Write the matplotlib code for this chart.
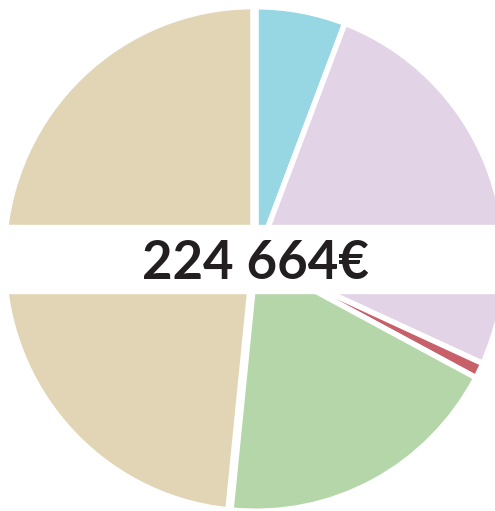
import matplotlib.pyplot as plt

labels = ["Bleu", "Violet", "Rouge", "Vert", "Beige"]
shares = [5.8, 26.0, 1.0, 18.8, 48.4]
colors = ["#96D7E3", "#E2D3E7", "#C8606A", "#B5D6A8", "#E2D5B5"]
explode = [0, 0, 0, 0, 0.012]
total_label = "224 664€"


def main():
    fig = plt.figure(figsize=(4.95, 5.11), dpi=100)
    ax = fig.add_axes([0, 0, 1, 1])

    ax.pie(shares, colors=colors, startangle=90, counterclock=False,
           explode=explode, radius=1.0,
           wedgeprops={"edgecolor": "white", "linewidth": 4})

    # pixel scale of one radius, slightly wider vertically than horizontally
    sx, sy = 249.3, 252.3
    cx, cy = 256, 259
    ax.set_xlim(-cx / sx, (495 - cx) / sx)
    ax.set_ylim(-(511 - cy) / sy, cy / sy)
    ax.set_aspect("auto")
    ax.axis("off")

    ax.axhspan(-34 / sy, 34 / sy, color="white", zorder=3)
    ax.text(-1 / sx, 0, total_label, ha="center", va="center_baseline",
            fontsize=38, fontweight="bold", family="Lato",
            color="#231F20", zorder=4)

    fig.savefig("out.png", dpi=100)
    plt.close(fig)


if __name__ == "__main__":
    main()
